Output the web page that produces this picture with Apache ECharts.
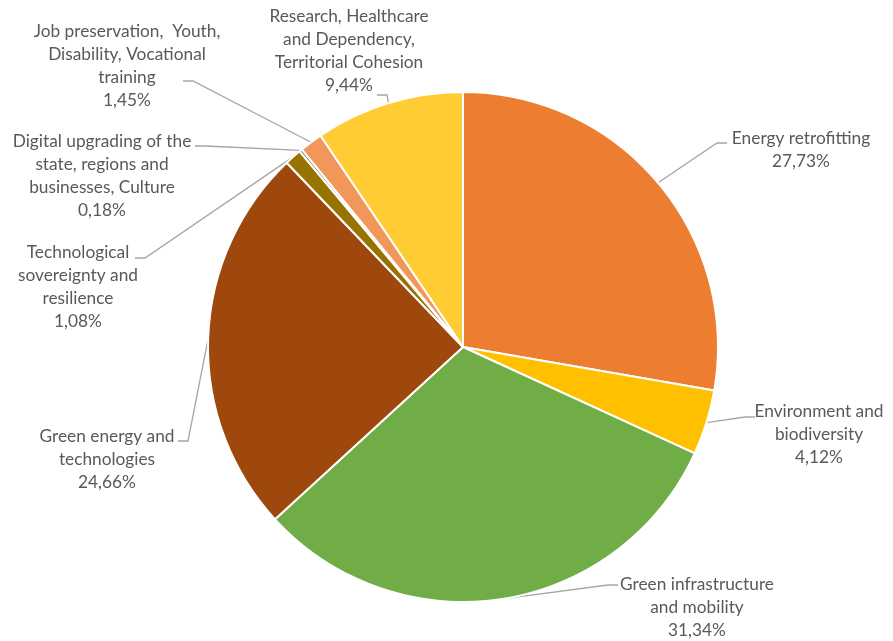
<!DOCTYPE html>
<html>
<head>
<meta charset="utf-8">
<script src="https://cdn.jsdelivr.net/npm/echarts@6/dist/echarts.min.js"></script>
<style>
  html, body { margin: 0; padding: 0; background: #ffffff; }
  #chart { width: 893px; height: 641px; }
</style>
</head>
<body>
<div id="chart"></div>
<script>
// Budget shares by component (per cent), clockwise from 12 o'clock
const categories = [
  'Energy retrofitting',
  'Environment and\nbiodiversity',
  'Green infrastructure\nand mobility',
  'Green energy and\ntechnologies',
  'Technological\nsovereignty and\nresilience',
  'Digital upgrading of the\nstate, regions and\nbusinesses, Culture',
  'Job preservation,  Youth,\nDisability, Vocational\ntraining',
  'Research, Healthcare\nand Dependency,\nTerritorial Cohesion'
];
const shares = [27.73, 4.12, 31.34, 24.66, 1.08, 0.18, 1.45, 9.44];
const sliceColors = ['#ED7D31', '#FFC000', '#70AD47', '#9E480E', '#997300', '#43682B', '#F1975A', '#FFCD33'];

// Where each label sits (centre x, top y) and where its leader line meets the text
const labelSpots = [
  { x: 801, y: 127, hook: [727, 143], side: -1 },
  { x: 819, y: 400, hook: [755, 417], side: -1 },
  { x: 697, y: 573, hook: [618, 585], side: -1 },
  { x: 107, y: 425, hook: [178, 441], side: 1 },
  { x: 78,  y: 241, hook: [135, 258], side: 1 },
  { x: 102, y: 130, hook: [195, 146], side: 1 },
  { x: 127, y: 20,  hook: [183, 81],  side: 1 },
  { x: 349, y: 5,   hook: [377, 95],  side: 1 }
];

const fmt = v => v.toFixed(2).replace('.', ',') + '%';

const chart = echarts.init(document.getElementById('chart'), null, { renderer: 'canvas' });

chart.setOption({
  animation: false,
  backgroundColor: '#ffffff',
  series: [{
    type: 'pie',
    center: [463, 347],
    radius: 255,
    startAngle: 90,
    clockwise: true,
    avoidLabelOverlap: false,
    minAngle: 0,
    data: categories.map((name, i) => ({
      name: name,
      value: shares[i],
      itemStyle: { color: sliceColors[i] }
    })),
    itemStyle: { borderColor: '#ffffff', borderWidth: 2 },
    label: {
      show: true,
      position: 'outside',
      formatter: p => p.name + '\n' + fmt(p.value),
      fontFamily: 'Lato',
      fontSize: 17.3,
      lineHeight: 23,
      color: '#595959',
      align: 'center'
    },
    labelLine: {
      show: true,
      length: 10,
      length2: 10,
      lineStyle: { color: '#A6A6A6', width: 1.3 }
    },
    labelLayout: function (params) {
      const spot = labelSpots[params.dataIndex];
      const start = params.labelLinePoints ? params.labelLinePoints[0] : null;
      const elbow = [spot.hook[0] + spot.side * 10, spot.hook[1]];
      const out = {
        x: spot.x,
        y: spot.y,
        align: 'center',
        verticalAlign: 'top'
      };
      if (start) {
        out.labelLinePoints = [start, elbow, spot.hook];
      }
      return out;
    },
    emphasis: { disabled: true }
  }]
});
</script>
</body>
</html>
